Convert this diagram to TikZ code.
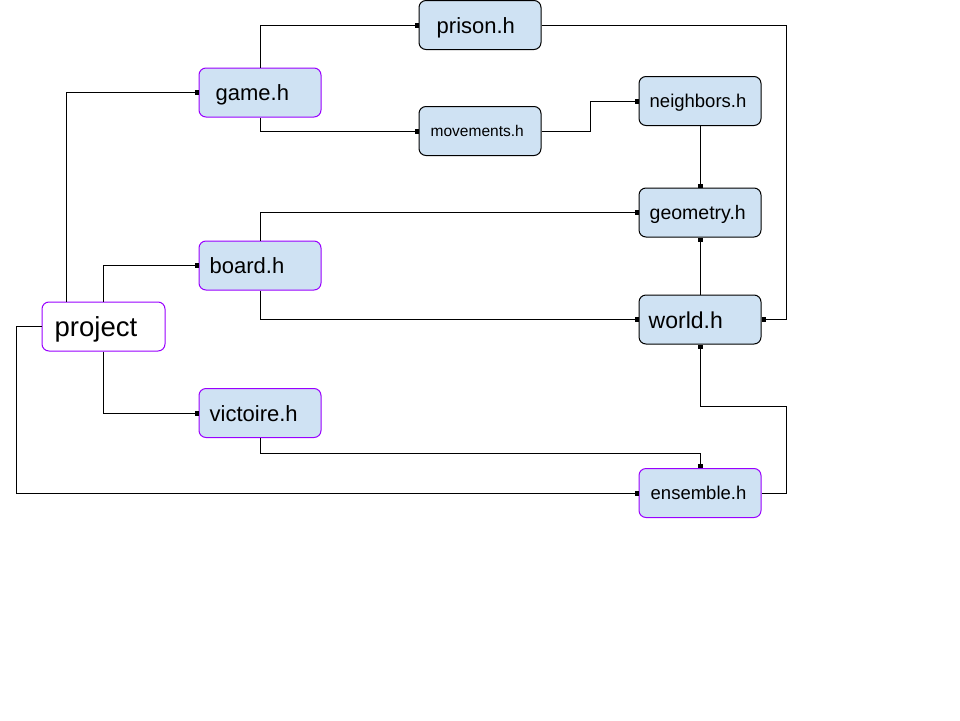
\documentclass[tikz,border=0pt]{standalone}
\usepackage{fontspec}
\setmainfont{Liberation Sans}
\usetikzlibrary{arrows.meta,calc}
\definecolor{boxfill}{HTML}{CFE2F3}
\definecolor{purp}{HTML}{9900FF}
\begin{document}
\begin{tikzpicture}[x=1pt,y=-1pt,
  hbox/.style={draw=black, fill=boxfill, rounded corners=7pt, line width=1pt,
    minimum width=122pt, minimum height=49pt, inner sep=0pt},
  pbox/.style={hbox, draw=purp},
  wbox/.style={pbox, fill=white},
  lab/.style={anchor=base west, inner sep=0pt, font=\fontsize{#1}{#1}\selectfont, yshift={-0.37*#1}},
  conn/.style={line width=1pt, -{Square[length=4pt,width=5pt]}}]
\useasboundingbox (0,0) rectangle (960,720);

% boxes
\node[hbox] (prison) at (480,25) {};
\node[pbox] (game) at (260,92.5) {};
\node[hbox] (movements) at (480,131) {};
\node[hbox] (neighbors) at (700,101) {};
\node[hbox] (geometry) at (700,212.5) {};
\node[pbox] (board) at (260,265.5) {};
\node[hbox] (world) at (700,319.5) {};
\node[wbox, minimum width=123pt] (project) at (103.5,326.5) {};
\node[pbox] (victoire) at (260,413) {};
\node[pbox] (ensemble) at (700,493) {};

% labels
\node[lab=22] (prison-t) at ([xshift=18]prison.west) {prison.h};
\node[lab=22] (game-t) at ([xshift=17]game.west) {game.h};
\node[lab=15.5] (movements-t) at ([xshift=12]movements.west) {movements.h};
\node[lab=18.5] (neighbors-t) at ([xshift=11]neighbors.west) {neighbors.h};
\node[lab=19.5] (geometry-t) at ([xshift=11]geometry.west) {geometry.h};
\node[lab=22] (board-t) at ([xshift=11]board.west) {board.h};
\node[lab=23] (world-t) at ([xshift=10]world.west) {world.h};
\node[lab=27.5] (project-t) at ([xshift=13]project.west) {project};
\node[lab=22] (victoire-t) at ([xshift=11]victoire.west) {victoire.h};
\node[lab=18.5] (ensemble-t) at ([xshift=12]ensemble.west) {ensemble.h};

% connectors
\draw[conn] ([xshift=-37.5]project.north) |- (game.west);
\draw[conn] (project.north) |- (board.west);
\draw[conn] (project.south) |- (victoire.west);
\draw[conn] (project.west) -- ++(-25,0) |- (ensemble.west);
\draw[conn] (game.north) |- (prison.west);
\draw[conn] (game.south) |- (movements.west);
\draw[conn] (movements.east) -- ++(49,0) |- (neighbors.west);
\draw[conn] (neighbors.south) -- (geometry.north);
\draw[conn] (prison.east) -- ++(245,0) |- (world.east);
\draw[conn] (board.north) |- (geometry.west);
\draw[conn] (board.south) |- (world.west);
\draw[conn] (world.north) -- (geometry.south);
\draw[conn] (victoire.south) -- ++(0,15) -| (ensemble.north);
\draw[conn] (ensemble.east) -- ++(25,0) -- ++(0,-87) -| (world.south);
\end{tikzpicture}
\end{document}
